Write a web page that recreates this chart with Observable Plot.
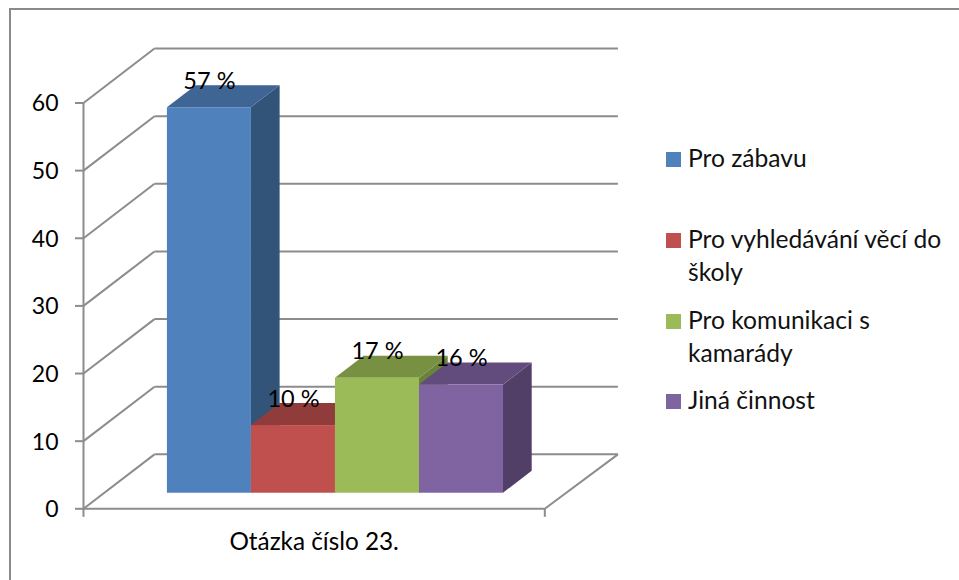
<!DOCTYPE html>
<html><head><meta charset="utf-8">
<script src="https://cdn.jsdelivr.net/npm/d3@7"></script>
<script src="https://cdn.jsdelivr.net/npm/@observablehq/plot@0.6"></script>
<style>
html,body{margin:0;padding:0;background:#fff}
#wrap{position:relative;width:959px;height:580px;overflow:hidden;font-family:Lato,sans-serif}
#wrap svg{position:absolute;left:0;top:0;display:block}
#frame{position:absolute;left:9px;top:7.5px;right:-4px;bottom:-4px;border:solid #8a8a8a;border-width:2px 0 0 2px}
.lg{position:absolute;left:688px;font-size:24.6px;line-height:32.5px;color:#111;white-space:nowrap}
.sw{position:absolute;left:666px;width:15px;height:15px}
</style></head><body>
<div id="wrap"><div id="frame"></div></div>
<script>
const categories = ["Pro zábavu", "Pro vyhledávání věcí do školy", "Pro komunikaci s kamarády", "Jiná činnost"];
const legendLines = [["Pro zábavu"], ["Pro vyhledávání věcí do", "školy"], ["Pro komunikaci s", "kamarády"], ["Jiná činnost"]];
const values = [57, 10, 17, 16];
const valueLabels = ["57 %", "10 %", "17 %", "16 %"];
const frontColors = ["#4f81bd", "#c0504d", "#9bbb59", "#8064a2"];
const topColors = ["#3e6594", "#8f3c3a", "#779041", "#624c7d"];
const sideColors = ["#325479", "#7b3331", "#6a8239", "#523f68"];
const yTicks = [0, 10, 20, 30, 40, 50, 60];
const groupLabel = "Otázka číslo 23.";

// oblique projection: axes in data units (1 x-unit = one bar width)
const floorWidth = 5.49, wallDx = 0.845, wallDy = 8.05;
const barStart = 0.757, barDepthFront = 0.286, barDepthBack = 0.69;
const px = (u, d) => u + d * wallDx;
const py = (v, d) => v + d * wallDy;

const gridStyle = {stroke: "#8c8c8c", strokeWidth: 2};
const marks = [];

// back wall + left wall gridlines
marks.push(Plot.link(yTicks, {x1: px(0, 1), x2: px(floorWidth + 0.025, 1), y1: v => py(v, 1), y2: v => py(v, 1), ...gridStyle}));
marks.push(Plot.link(yTicks, {x1: px(0, 0), x2: px(0, 1), y1: v => py(v, 0), y2: v => py(v, 1), ...gridStyle}));
// floor
marks.push(Plot.link([0], {x1: px(floorWidth, 0), x2: px(floorWidth + 0.025, 1), y1: py(0, 0), y2: py(0, 1), ...gridStyle}));
marks.push(Plot.link([0], {x1: px(0, 0), x2: px(floorWidth, 0), y1: 0, y2: 0, ...gridStyle}));
marks.push(Plot.link([0], {x1: 0, x2: 0, y1: 0, y2: 60, ...gridStyle}));

// bars
values.forEach((v, i) => {
  const u0 = barStart + i, u1 = u0 + 1;
  const side = [barDepthFront, barDepthBack].map(d => ({x: px(u1, d), y1: py(0, d), y2: py(v, d)}));
  const top = [barDepthFront, barDepthBack].map(d => ({y: py(v, d), x1: px(u0, d), x2: px(u1, d)}));
  marks.push(Plot.areaY(side, {x: "x", y1: "y1", y2: "y2", fill: sideColors[i]}));
  marks.push(Plot.areaX(top, {y: "y", x1: "x1", x2: "x2", fill: topColors[i]}));
  marks.push(Plot.rect([v], {x1: px(u0, barDepthFront), x2: px(u1, barDepthFront), y1: py(0, barDepthFront), y2: py(v, barDepthFront), fill: frontColors[i]}));
});

// data labels
marks.push(Plot.text(values, {
  x: (v, i) => px(barStart + i + 0.5, barDepthFront),
  y: v => py(v, barDepthFront),
  text: (v, i) => valueLabels[i],
  dy: -26.5, fontSize: 23.5, fill: "#000", textAnchor: "middle"
}));

// axes
marks.push(Plot.axisY({ticks: yTicks, tickSize: 8, strokeWidth: 2, tickPadding: 17, fontSize: 23, color: "#8c8c8c", label: null, tickFormat: d => d}));
marks.push(Plot.axisX({ticks: [0, floorWidth], tickSize: 8.5, strokeWidth: 2, tickFormat: () => "", label: null, color: "#8c8c8c"}));
marks.push(Plot.axisX({ticks: [floorWidth / 2], tickSize: 0, tickPadding: 24, fontSize: 24.3, tickFormat: () => groupLabel, label: null}));

const chart = Plot.plot({
  width: 959, height: 580,
  marginLeft: 83, marginRight: 414.7, marginTop: 102.5, marginBottom: 71.7,
  x: {domain: [0, floorWidth]},
  y: {domain: [0, 60]},
  style: {background: "transparent", fontFamily: "Lato, sans-serif", overflow: "visible"},
  marks
});
const wrap = document.getElementById("wrap");
wrap.appendChild(chart);
chart.querySelectorAll('[aria-label="y-axis tick label"], [aria-label="x-axis tick label"]').forEach(g => {g.setAttribute("fill", "#000");});
chart.querySelectorAll('[aria-label="y-axis tick label"] text').forEach(t => t.setAttribute("dy", "1"));

// legend
const rowsY = [159, 240, 321, 401];
legendLines.forEach((lines, i) => {
  const sw = document.createElement("div");
  sw.className = "sw";
  sw.style.top = (rowsY[i] - 7.5) + "px";
  sw.style.background = frontColors[i];
  wrap.appendChild(sw);
  const t = document.createElement("div");
  t.className = "lg";
  t.style.top = (rowsY[i] - 17) + "px";
  t.innerHTML = lines.join("<br>");
  wrap.appendChild(t);
});
</script>
</body></html>
